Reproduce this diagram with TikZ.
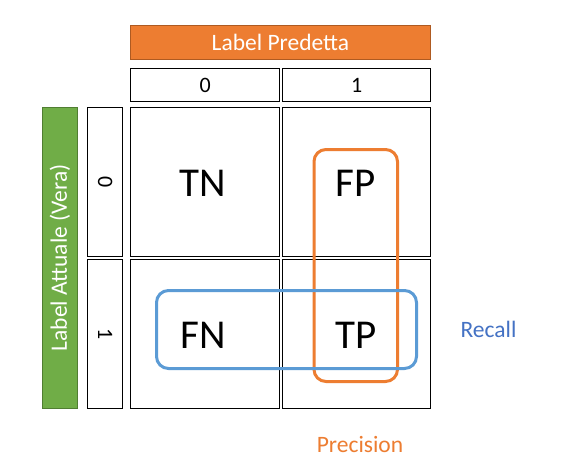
\documentclass[tikz,border=0pt]{standalone}
\usepackage{fontspec}
\setmainfont{Carlito}
\definecolor{hdrorange}{HTML}{ED7D31}
\definecolor{hdrorangeb}{HTML}{AE5A21}
\definecolor{barg}{HTML}{70AD47}
\definecolor{bargb}{HTML}{507E32}
\definecolor{recblue}{HTML}{5B9BD5}
\definecolor{txtblue}{HTML}{4472C4}
\begin{document}
\begin{tikzpicture}[x=1pt,y=-1pt,
  cell/.style={draw=black,line width=1.2pt,fill=white,inner sep=0pt,anchor=north west},
  big/.style={font=\fontsize{41}{45}\selectfont},
  hdr/.style={font=\fontsize{22}{26}\selectfont},
  sel/.style={line width=3pt,rounded corners=12pt}
]
\useasboundingbox (0,0) rectangle (578,475);
\fill[white] (0,0) rectangle (578,475);
% top header
\node[draw=hdrorangeb,fill=hdrorange,line width=0.8pt,minimum width=300pt,minimum height=34pt,anchor=north west,inner sep=0pt,text=white,font=\fontsize{23.5}{26}\selectfont] (pred) at (130,25) {Label Predetta};
\node[cell,minimum width=149pt,minimum height=33pt] (c0) at (130,68) {};
\node[cell,minimum width=148pt,minimum height=33pt] (c1) at (282,68) {};
\node[hdr] (c0t) at (c0.center) {0};
\node[hdr] (c1t) at (c1.center) {1};
% side header
\node[draw=bargb,fill=barg,line width=0.8pt,minimum width=35pt,minimum height=301pt,anchor=north west,inner sep=0pt] (act) at (42,107) {};
\node[rotate=90,text=white,font=\fontsize{23.5}{26}\selectfont] (actt) at (act.center) {Label Attuale (Vera)};
\node[cell,minimum width=35pt,minimum height=149pt] (r0) at (87,107) {};
\node[cell,minimum width=35pt,minimum height=149pt] (r1) at (87,259) {};
\node[rotate=-90,hdr] (r0t) at (r0.center) {0};
\node[rotate=-90,hdr] (r1t) at (r1.center) {1};
% matrix cells
\node[cell,minimum width=149pt,minimum height=149pt] (tn) at (130,107) {};
\node[cell,minimum width=148pt,minimum height=149pt] (fp) at (282,107) {};
\node[cell,minimum width=149pt,minimum height=149pt] (fn) at (130,259) {};
\node[cell,minimum width=148pt,minimum height=149pt] (tp) at (282,259) {};
\node[big] (tnt) at (203,183) {TN};
\node[big] (fpt) at (356,183) {FP};
\node[big] (fnt) at (203,335) {FN};
\node[big] (tpt) at (356,335) {TP};
% selections
\draw[sel,draw=hdrorange] (314,149.5) rectangle (397.5,381.5);
\draw[sel,draw=recblue] (156.5,290.5) rectangle (416.5,368.5);
\node[text=txtblue,font=\fontsize{23.5}{26}\selectfont] (rec) at (488.5,329) {Recall};
\node[text=hdrorange,font=\fontsize{23.5}{26}\selectfont] (prec) at (360,444) {Precision};
\end{tikzpicture}
\end{document}
